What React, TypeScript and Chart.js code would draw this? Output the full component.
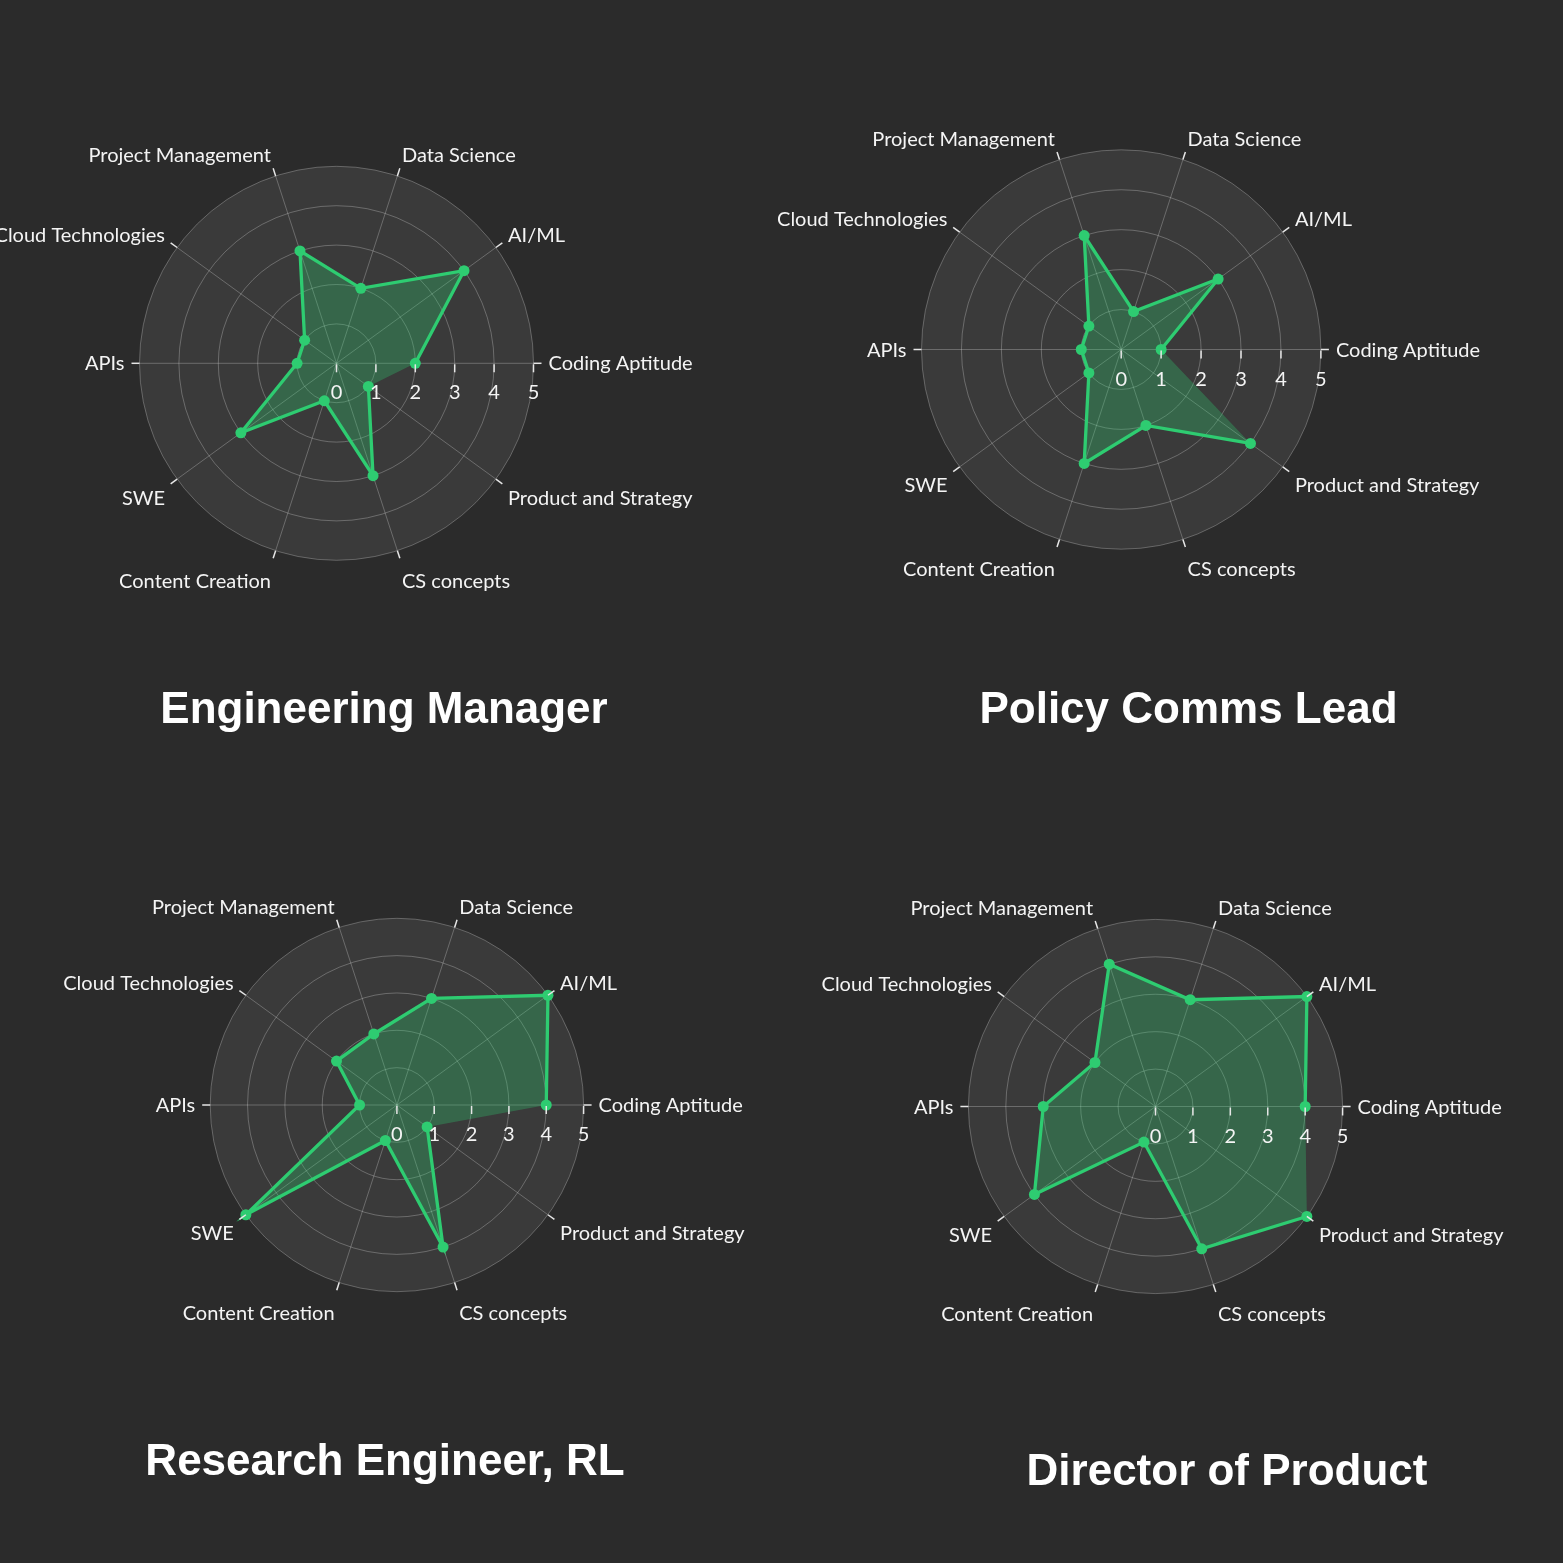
import React, { useEffect, useRef } from "react";
import { Chart, registerables } from "chart.js";

Chart.register(...registerables);

// ---- data ----
const categories = [
  "Coding Aptitude",
  "AI/ML",
  "Data Science",
  "Project Management",
  "Cloud Technologies",
  "APIs",
  "SWE",
  "Content Creation",
  "CS concepts",
  "Product and Strategy",
];
const radialTicks = [0, 1, 2, 3, 4, 5];
const engineeringManager = [2, 4, 2, 3, 1, 1, 3, 1, 3, 1];
const policyCommsLead = [1, 3, 1, 3, 1, 1, 1, 3, 2, 4];
const researchEngineerRL = [4, 5, 3, 2, 2, 1, 5, 1, 4, 1];
const directorOfProduct = [4, 5, 3, 4, 2, 3, 4, 1, 4, 5];
const titles = [
  "Engineering Manager",
  "Policy Comms Lead",
  "Research Engineer, RL",
  "Director of Product",
];

// ---- styles ----
const PAGE_BG = "#2b2b2b";
const POLAR_BG = "#3a3a3a";
const GRID = "rgba(255,255,255,0.25)";
const GREEN = "#2ecc71";
const FILL = "rgba(46,204,113,0.3)";
const TICK = "#e6e6e6";
const TEXT = "#f4f4f4";
const LABEL_FONT = '20px Lato, "Open Sans", sans-serif';
const TITLE_FONT = 'bold 44px "Liberation Sans", Arial, sans-serif';

type Panel = {
  title: string;
  values: number[];
  box: [number, number, number, number];
  center: [number, number];
  radius: number;
  titleAt: [number, number];
};

const panels: Panel[] = [
  { title: titles[0], values: engineeringManager, box: [0, 0, 782, 782], center: [336.5, 363.3], radius: 197, titleAt: [384, 723] },
  { title: titles[1], values: policyCommsLead, box: [740, 0, 823, 782], center: [1121.2, 349.5], radius: 199.7, titleAt: [1188.5, 723] },
  { title: titles[2], values: researchEngineerRL, box: [0, 782, 782, 781], center: [396.9, 1105], radius: 186.7, titleAt: [385, 1475] },
  { title: titles[3], values: directorOfProduct, box: [740, 782, 823, 781], center: [1155.5, 1106.5], radius: 187.1, titleAt: [1227, 1485] },
];

const decorPlugin = {
  id: "decor",
  afterDraw(chart: any, _args: any, opts: any) {
    const scale = chart.scales.r;
    const ctx: CanvasRenderingContext2D = chart.ctx;
    const xc = scale.xCenter;
    const yc = scale.yCenter;
    const R = scale.drawingArea;
    const labels: string[] = chart.data.labels;
    ctx.save();
    ctx.strokeStyle = TICK;
    ctx.lineWidth = 1.5;
    ctx.fillStyle = TEXT;
    ctx.font = LABEL_FONT;
    ctx.textBaseline = "alphabetic";
    for (let i = 0; i < labels.length; i++) {
      const p0 = scale.getPointPosition(i, R);
      const p1 = scale.getPointPosition(i, R + 8);
      ctx.beginPath();
      ctx.moveTo(p0.x, p0.y);
      ctx.lineTo(p1.x, p1.y);
      ctx.stroke();
      const d = R + 15;
      const pl = scale.getPointPosition(i, d);
      const c = (pl.x - xc) / d;
      const s = -(pl.y - yc) / d;
      ctx.textAlign = c > 0.05 ? "left" : c < -0.05 ? "right" : "center";
      const baseline = pl.y + 7 - s * (s > 0 ? 6.5 : 16.5);
      ctx.fillText(labels[i], pl.x, baseline);
    }
    ctx.textAlign = "center";
    for (const v of radialTicks) {
      const dist = scale.getDistanceFromCenterForValue(v);
      const x = xc + dist;
      ctx.beginPath();
      ctx.moveTo(x, yc + 1);
      ctx.lineTo(x, yc + 9);
      ctx.stroke();
      ctx.fillText(String(v), x, yc + 36);
    }
    ctx.font = TITLE_FONT;
    ctx.fillStyle = "#ffffff";
    ctx.textAlign = "center";
    ctx.fillText(opts.title, opts.tx, opts.ty);
    ctx.restore();
  },
};

function RadarPanel({ panel }: { panel: Panel }) {
  const ref = useRef<HTMLCanvasElement | null>(null);
  const [left, top, w, h] = panel.box;
  useEffect(() => {
    if (!ref.current) return;
    const chartLabels = [...categories].reverse();
    const rev = [...panel.values].reverse();
    const cx = panel.center[0] - left;
    const cy = panel.center[1] - top;
    const chart = new Chart(ref.current, {
      type: "radar",
      data: {
        labels: chartLabels,
        datasets: [
          {
            label: "line",
            data: [...rev, null] as any,
            borderColor: GREEN,
            borderWidth: 3.3,
            backgroundColor: "transparent",
            pointRadius: 5.5,
            pointBackgroundColor: GREEN,
            pointBorderWidth: 0,
            fill: false,
            spanGaps: false,
            clip: false as any,
          },
          {
            label: "area",
            data: rev,
            borderWidth: 0,
            borderColor: "transparent",
            backgroundColor: FILL,
            pointRadius: 0,
            fill: true,
            clip: false as any,
          },
        ],
      },
      options: {
        animation: false,
        responsive: false,
        events: [],
        elements: { line: { tension: 0 } },
        plugins: {
          legend: { display: false },
          tooltip: { enabled: false },
          decor: { title: panel.title, tx: panel.titleAt[0] - left, ty: panel.titleAt[1] - top },
        } as any,
        scales: {
          r: {
            min: 0,
            max: 5,
            startAngle: 126,
            backgroundColor: POLAR_BG,
            ticks: { display: false, stepSize: 1 },
            grid: { circular: true, color: GRID, lineWidth: 1 },
            angleLines: { color: GRID, lineWidth: 1 },
            pointLabels: { display: false },
            afterFit: (scale: any) => {
              scale.xCenter = cx;
              scale.yCenter = cy;
              scale.drawingArea = panel.radius;
            },
          } as any,
        },
      },
      plugins: [decorPlugin],
    });
    return () => chart.destroy();
  }, [panel]);
  return (
    <canvas
      ref={ref}
      width={w}
      height={h}
      style={{ position: "absolute", left, top, width: w, height: h }}
    />
  );
}

export default function App() {
  return (
    <div
      style={{
        position: "absolute",
        left: 0,
        top: 0,
        width: 1563,
        height: 1563,
        background: PAGE_BG,
        overflow: "hidden",
      }}
    >
      {panels.map((p) => (
        <RadarPanel key={p.title} panel={p} />
      ))}
    </div>
  );
}
